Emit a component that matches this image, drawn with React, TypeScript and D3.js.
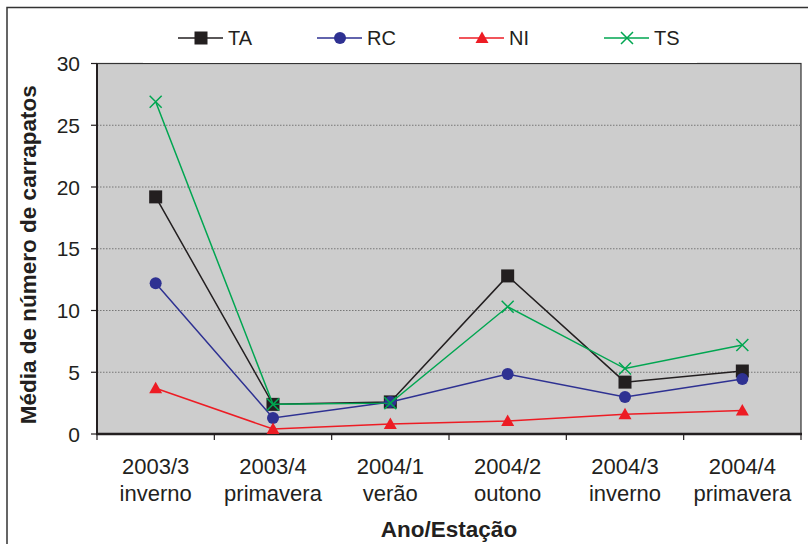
import React, { useEffect, useRef } from "react";
import * as d3 from "d3";

const categories = ["2003/3|inverno", "2003/4|primavera", "2004/1|verão", "2004/2|outono", "2004/3|inverno", "2004/4|primavera"];
const seriesNames = ["TA", "RC", "NI", "TS"];
const valuesTA = [19.2, 2.4, 2.6, 12.8, 4.2, 5.1];
const valuesRC = [12.2, 1.3, 2.6, 4.85, 3.0, 4.45];
const valuesNI = [3.7, 0.4, 0.8, 1.05, 1.6, 1.9];
const valuesTS = [26.9, 2.4, 2.5, 10.3, 5.3, 7.2];
const yTicks = [0, 5, 10, 15, 20, 25, 30];

const colors = { TA: "#231f20", RC: "#2e3192", NI: "#ed1c24", TS: "#00a651" };
const FONT = "'Liberation Sans', Arial, sans-serif";

export default function App() {
    const ref = useRef(null);

    useEffect(() => {
        const svg = d3.select(ref.current);
        svg.selectAll("*").remove();

        const left = 97, right = 801, top = 63.5, bottom = 434;
        const x = d3.scaleBand().domain(categories).range([left, right]);
        const y = d3.scaleLinear().domain([0, 30]).range([bottom, top]);
        const cx = (c) => x(c) + x.bandwidth() / 2;

        // outer frame
        svg.append("rect")
            .attr("x", 7).attr("y", 7.5).attr("width", 820).attr("height", 560)
            .attr("fill", "white").attr("stroke", "#333").attr("stroke-width", 1.5);

        // plot area
        svg.append("rect")
            .attr("x", left).attr("y", top).attr("width", right - left).attr("height", bottom - top)
            .attr("fill", "#cdcdcd").attr("stroke", "#333").attr("stroke-width", 1.2);

        // grid
        svg.append("g")
            .selectAll("line")
            .data(yTicks.filter((t) => t > 0 && t < 30))
            .join("line")
            .attr("x1", left).attr("x2", right)
            .attr("y1", (d) => y(d)).attr("y2", (d) => y(d))
            .attr("stroke", "#777").attr("stroke-width", 1)
            .attr("stroke-dasharray", "1.5,1.5");

        // y axis
        const yAxis = svg.append("g").attr("font-family", FONT).attr("font-size", 21).attr("fill", "#231f20");
        yAxis.append("line").attr("x1", left).attr("x2", left).attr("y1", top).attr("y2", bottom + 1)
            .attr("stroke", "#231f20").attr("stroke-width", 2);
        yAxis.selectAll("line.tick").data(yTicks).join("line").attr("class", "tick")
            .attr("x1", 91).attr("x2", left).attr("y1", (d) => y(d)).attr("y2", (d) => y(d))
            .attr("stroke", "#231f20").attr("stroke-width", 1.2);
        yAxis.selectAll("text").data(yTicks).join("text")
            .attr("x", 80).attr("y", (d) => y(d)).attr("dy", "0.36em")
            .attr("text-anchor", "end").text((d) => d);

        // x axis
        const xAxis = svg.append("g").attr("font-family", FONT).attr("font-size", 22).attr("fill", "#231f20");
        xAxis.append("line").attr("x1", left - 1).attr("x2", right + 1).attr("y1", bottom).attr("y2", bottom)
            .attr("stroke", "#231f20").attr("stroke-width", 2.5);
        const bounds = categories.map((c) => x(c)).concat([right]);
        xAxis.selectAll("line.tick").data(bounds).join("line").attr("class", "tick")
            .attr("x1", (d) => d).attr("x2", (d) => d).attr("y1", bottom).attr("y2", bottom + 6)
            .attr("stroke", "#231f20").attr("stroke-width", 1.2);
        const lbl = xAxis.selectAll("text").data(categories).join("text")
            .attr("x", (d) => cx(d)).attr("text-anchor", "middle");
        lbl.append("tspan").attr("x", (d) => cx(d)).attr("y", 474).text((d) => d.split("|")[0]);
        lbl.append("tspan").attr("x", (d) => cx(d)).attr("y", 501).text((d) => d.split("|")[1]);

        svg.append("text").attr("x", (left + right) / 2).attr("y", 537)
            .attr("text-anchor", "middle").attr("font-family", FONT).attr("font-size", 22.5)
            .attr("font-weight", "bold").attr("fill", "#231f20").text("Ano/Estação");

        svg.append("text")
            .attr("transform", `translate(36,${(top + bottom) / 2 + 6}) rotate(-90)`)
            .attr("text-anchor", "middle").attr("font-family", FONT).attr("font-size", 22.5)
            .attr("font-weight", "bold").attr("fill", "#231f20").text("Média de número de carrapatos");

        const marker = (g, name, px, py) => {
            const c = colors[name];
            if (name === "TA") {
                g.append("rect").attr("x", px - 6.5).attr("y", py - 6.5).attr("width", 13).attr("height", 13).attr("fill", c);
            } else if (name === "RC") {
                g.append("circle").attr("cx", px).attr("cy", py).attr("r", 6).attr("fill", c);
            } else if (name === "NI") {
                g.append("path").attr("d", `M${px},${py - 6.5}L${px + 6.5},${py + 5}L${px - 6.5},${py + 5}Z`).attr("fill", c);
            } else {
                g.append("path").attr("d", `M${px - 6},${py - 6}L${px + 6},${py + 6}M${px - 6},${py + 6}L${px + 6},${py - 6}`)
                    .attr("stroke", c).attr("stroke-width", 1.5).attr("fill", "none");
            }
        };

        const seriesData = { TA: valuesTA, RC: valuesRC, NI: valuesNI, TS: valuesTS };
        const line = d3.line().x((d) => cx(d.c)).y((d) => y(d.v));
        seriesNames.forEach((name) => {
            const pts = categories.map((c, i) => ({ c, v: seriesData[name][i] }));
            const g = svg.append("g");
            g.append("path").attr("d", line(pts)).attr("fill", "none")
                .attr("stroke", colors[name]).attr("stroke-width", 1.5);
            pts.forEach((p) => marker(g, name, cx(p.c), y(p.v)));
        });

        // legend
        svg.append("rect").attr("x", 143).attr("y", 20).attr("width", 554).attr("height", 43).attr("fill", "white");
        const legendX = [201, 340, 482, 627];
        seriesNames.forEach((name, i) => {
            const g = svg.append("g");
            const lx = legendX[i], ly = 38;
            g.append("line").attr("x1", lx - 23).attr("x2", lx + 22).attr("y1", ly).attr("y2", ly)
                .attr("stroke", colors[name]).attr("stroke-width", 1.5);
            marker(g, name, lx, ly);
            g.append("text").attr("x", lx + 27).attr("y", ly).attr("dy", "0.36em")
                .attr("font-family", FONT).attr("font-size", 20).attr("fill", "#231f20").text(name);
        });
    }, []);

    return (
        <svg ref={ref} width={808} height={544}
            style={{ position: "absolute", left: 0, top: 0, display: "block", background: "white" }} />
    );
}
